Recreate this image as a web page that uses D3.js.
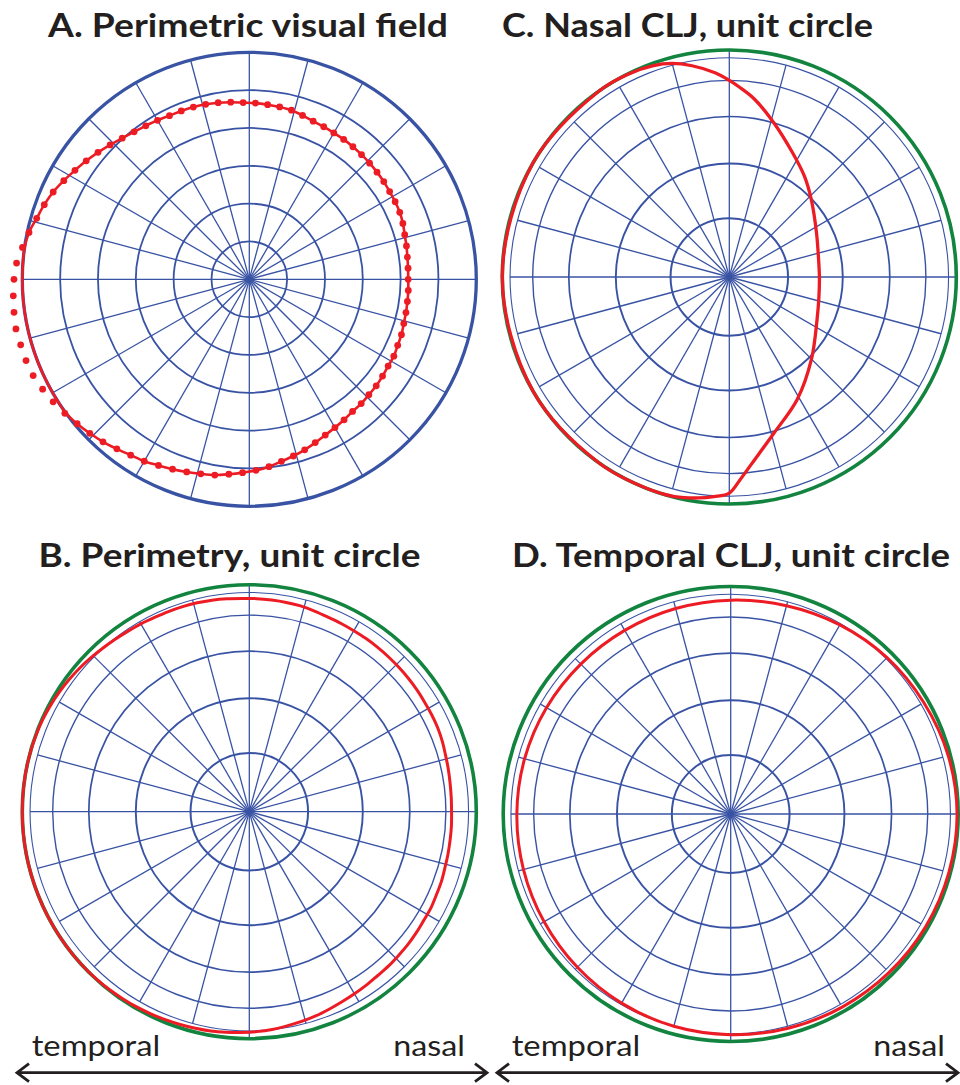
<!DOCTYPE html>
<html><head><meta charset="utf-8">
<script src="https://cdn.jsdelivr.net/npm/d3@7"></script>
<style>html,body{margin:0;padding:0;background:#fff;} svg{display:block;}</style>
</head><body>
<svg id="chart" width="960" height="1085"></svg>
<script>
// ---------- DATA ----------
// Perimetric visual field: polar angle (deg, counter-clockwise from nasal) and eccentricity (deg)
const fieldAngles = [0,4,8,12,16,20,24,28,32,36,40,44,48,52,56,60,64,68,72,76,80,84,88,92,96,100,104,108,112,116,
  120,124,128,132,136,140,144,148,152,156,160,164,168,172,176,180,184,188,192,196,200,204,208,212,216,220,224,228,232,236,
  240,244,248,252,256,260,264,268,272,276,280,284,288,292,296,300,304,308,312,316,320,324,328,332,336,340,344,348,352,356];
const fieldEcc = [63.0,63.1,63.3,63.7,64.1,64.8,65.3,65.5,65.6,65.9,
  66.1,66.3,66.5,66.7,66.9,67.0,67.3,67.6,68.3,69.1,
  69.4,69.6,69.9,70.1,70.6,71.1,71.5,71.8,72.0,72.2,
  72.8,73.4,74.2,75.3,76.7,78.3,79.9,81.5,83.3,85.1,
  86.5,87.7,89.3,90.8,92.5,93.3,93.8,94.2,94.6,94.3,
  94.2,93.8,92.8,91.7,90.4,89.1,87.9,86.7,85.3,84.1,
  83.3,82.1,81.2,80.3,79.5,78.8,77.7,76.7,75.8,74.7,
  73.3,72.2,71.1,69.8,68.7,67.9,67.2,66.5,66.3,65.9,
  65.7,65.3,64.9,64.9,64.4,64.2,63.7,63.5,63.3,63.2];
// grid
const ringEcc = [15,30,45,60,75];
const spokeAngles = [0,15,30,45,60,75,90,105,120,135,150,165,180,195,210,225,240,255,270,285,300,315,330,345];
// Nasal CLJ on unit circle: polar angle (deg) and radius (unit)
const nasalAngles = [0,14,27,43,53,63,74,82,87,90,94,100,105,110,116,125,150,180,210,235,250,256,262,266,270,273,277,286,299,315,334,347];
const nasalRadius = [0.397,0.404,0.431,0.495,0.552,0.614,0.708,0.792,0.838,0.866,0.902,0.945,0.974,0.990,0.998,1.0,1.0,1.0,1.0,1.0,1.0,0.997,0.983,0.970,0.952,0.895,0.826,0.715,0.617,0.512,0.430,0.405];
// Temporal CLJ on unit circle
const temporalAngles = [0,15,30,45,60,75,90,105,120,135,150,165,180,195,210,225,240,255,270,285,300,315,330,345];
const temporalRadius = [0.995,0.990,0.980,0.972,0.960,0.948,0.940,0.935,0.932,0.932,0.935,0.938,0.940,0.943,0.947,0.953,0.960,0.966,0.970,0.975,0.980,0.985,0.990,0.993];
// texts
const panelTitles = ["A. Perimetric visual field","C. Nasal CLJ, unit circle","B. Perimetry, unit circle","D. Temporal CLJ, unit circle"];
const sideLabels = ["temporal","nasal"];

// ---------- DRAWING ----------
const svg = d3.select("#chart");
const BLUE = "#3953a4", RED = "#ed1c24", GREEN = "#12843f", INK = "#231f20";
const toRad = d3.scaleLinear().domain([0,360]).range([0,2*Math.PI]);
const proj = e => Math.sin(toRad(Math.min(e,90)));

function makePanel(cx, cy, R, mode){
  const g = svg.append("g").attr("transform", `translate(${cx},${cy})`);
  const rScale = mode === "A" ? d3.scaleLinear().domain([0,90]).range([0,R])
                              : d3.scaleLinear().domain([0,1]).range([0,R]);
  const pt = (a, r) => [r*Math.cos(toRad(a)), -r*Math.sin(toRad(a))];
  const ringR = e => mode === "A" ? rScale(e) : rScale(proj(e));
  const ringW = mode === "A" ? [1.8,1.8,1.8,1.8,1.8] : [2.0,1.9,1.7,1.4,1.1];
  g.selectAll("circle.ring").data(ringEcc).join("circle").attr("class","ring")
    .attr("r", d => ringR(d)).attr("fill","none").attr("stroke",BLUE)
    .attr("stroke-width",(d,i)=>ringW[i]);
  const spokeEnd = d => (mode==="A"||d===0||d===90||d===270) ? R : ringR(75);
  g.selectAll("line.spoke").data(spokeAngles).join("line").attr("class","spoke")
    .attr("x1",0).attr("y1",0)
    .attr("x2", d => pt(d, spokeEnd(d))[0])
    .attr("y2", d => pt(d, spokeEnd(d))[1])
    .attr("stroke",BLUE).attr("stroke-width",1.3);
  g.append("circle").attr("r",R).attr("fill","none")
    .attr("stroke", mode==="A" ? BLUE : GREEN).attr("stroke-width", mode==="A" ? 3.3 : 3.6);
  return {g, rScale, pt};
}

const line = d3.line().curve(d3.curveCatmullRomClosed);

// Panel A
{
  const {g, rScale, pt} = makePanel(249.3, 279.3, 227, "A");
  const capped = fieldAngles.map((a,i)=>pt(a, rScale(Math.min(fieldEcc[i],90))));
  g.append("path").attr("d", line(capped)).attr("fill","none").attr("stroke",RED).attr("stroke-width",2.6);
  g.selectAll("circle.dot").data(fieldAngles).join("circle").attr("class","dot")
    .attr("cx",(a,i)=>pt(a, rScale(fieldEcc[i]))[0])
    .attr("cy",(a,i)=>pt(a, rScale(fieldEcc[i]))[1])
    .attr("r",3.4).attr("fill",RED);
}
// Panel B
{
  const {g, rScale, pt} = makePanel(249.3, 811.7, 227, "U");
  const pts = fieldAngles.map((a,i)=>pt(a, rScale(proj(fieldEcc[i]))));
  g.append("path").attr("d", line(pts)).attr("fill","none").attr("stroke",RED).attr("stroke-width",3);
}
// Panel C
{
  const {g, rScale, pt} = makePanel(729.3, 277, 227, "U");
  const pts = nasalAngles.map((a,i)=>pt(a, rScale(nasalRadius[i])));
  g.append("path").attr("d", line(pts)).attr("fill","none").attr("stroke",RED).attr("stroke-width",3.3);
}
// Panel D
{
  const {g, rScale, pt} = makePanel(730.7, 814, 227.5, "U");
  const pts = temporalAngles.map((a,i)=>pt(a, rScale(temporalRadius[i])));
  g.append("path").attr("d", line(pts)).attr("fill","none").attr("stroke",RED).attr("stroke-width",3);
}

// Titles
const titlePos = [[48,36.7,400],[502,36.7,371],[38.5,566.5,382],[512,566.5,438]];
svg.selectAll("text.title").data(panelTitles).join("text").attr("class","title")
  .attr("x",(d,i)=>titlePos[i][0]).attr("y",(d,i)=>titlePos[i][1])
  .attr("textLength",(d,i)=>titlePos[i][2]).attr("lengthAdjust","spacingAndGlyphs")
  .attr("font-family","Lato, 'Open Sans', sans-serif").attr("font-weight",700)
  .attr("font-size",33).attr("fill",INK).text(d=>d);

// side labels and arrows
const labelPos = [[31.7,128.5],[393.3,71.7],[511.7,128.5],[873.3,71.7]];
const labelTexts = [sideLabels[0],sideLabels[1],sideLabels[0],sideLabels[1]];
svg.selectAll("text.side").data(labelTexts).join("text").attr("class","side")
  .attr("x",(d,i)=>labelPos[i][0]).attr("y",1056)
  .attr("textLength",(d,i)=>labelPos[i][1]).attr("lengthAdjust","spacingAndGlyphs")
  .attr("font-family","Lato, 'Open Sans', sans-serif").attr("font-weight",400)
  .attr("font-size",28).attr("fill",INK).text(d=>d);

const arrows = [[17,487],[497,958]];
const ay = 1072.7;
arrows.forEach(([x0,x1])=>{
  const p = d3.path();
  p.moveTo(x0+1.5, ay); p.lineTo(x1-1.5, ay);
  p.moveTo(x0+12, ay-9); p.lineTo(x0, ay); p.lineTo(x0+12, ay+9);
  p.moveTo(x1-12, ay-9); p.lineTo(x1, ay); p.lineTo(x1-12, ay+9);
  svg.append("path").attr("d", p.toString()).attr("fill","none")
    .attr("stroke",INK).attr("stroke-width",2.8).attr("stroke-linejoin","miter");
});
</script>
</body></html>
